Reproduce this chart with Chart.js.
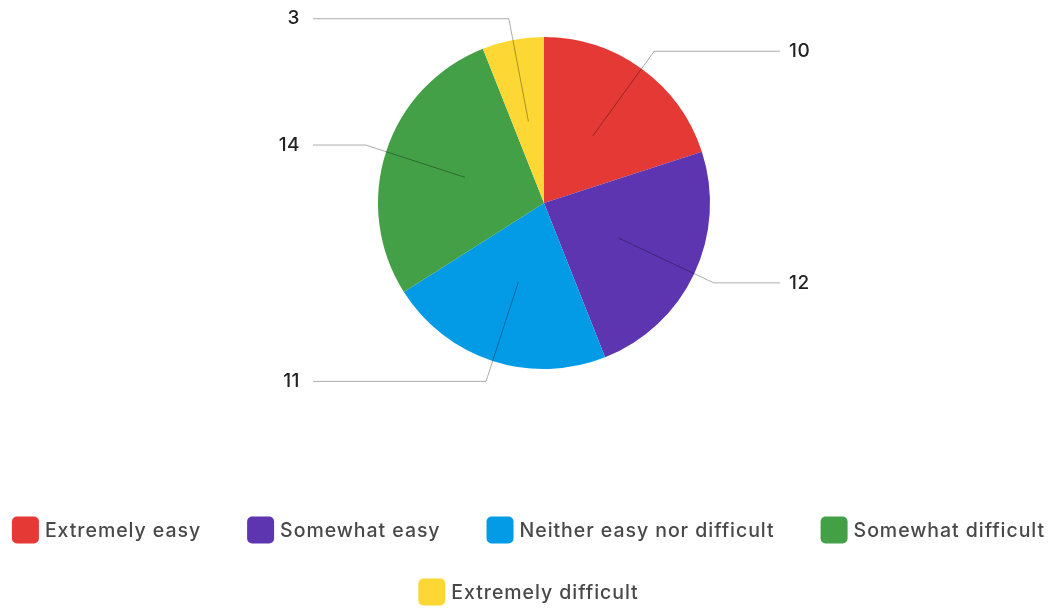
<!DOCTYPE html>
<html>
<head>
<meta charset="utf-8">
<script src="https://cdn.jsdelivr.net/npm/chart.js@4/dist/chart.umd.min.js"></script>
<style>
  html, body { margin: 0; padding: 0; background: #fff; }
  #wrap { width: 1057px; height: 608px; }
</style>
</head>
<body>
<div id="wrap"><canvas id="myChart" width="1057" height="608"></canvas></div>
<script>
const labels = ['Extremely easy', 'Somewhat easy', 'Neither easy nor difficult', 'Somewhat difficult', 'Extremely difficult'];
const counts = [10, 12, 11, 14, 3];
const colors = ['#E53935', '#5E35B1', '#039BE5', '#43A047', '#FDD835'];

const FONT = 'Inter, "Noto Sans", sans-serif';

// leader lines + outside value labels
const leaderLabels = {
  id: 'leaderLabels',
  afterDatasetsDraw(chart) {
    const ctx = chart.ctx;
    const arcs = chart.getDatasetMeta(0).data;
    ctx.save();
    arcs.forEach((arc, i) => {
      const mid = (arc.startAngle + arc.endAngle) / 2;
      const r = arc.outerRadius;
      const cx = arc.x, cy = arc.y;
      const x1 = cx + Math.cos(mid) * r * 0.5;
      const y1 = cy + Math.sin(mid) * r * 0.5;
      const x2 = cx + Math.cos(mid) * r * 1.13;
      const y2 = cy + Math.sin(mid) * r * 1.13;
      const right = Math.cos(mid) >= 0;
      const x3 = right ? 780 : 313;
      ctx.strokeStyle = 'rgba(0,0,0,0.33)';
      ctx.lineWidth = 1;
      ctx.beginPath();
      ctx.moveTo(x1, y1);
      ctx.lineTo(x2, y2);
      ctx.lineTo(x3, y2);
      ctx.stroke();
      ctx.fillStyle = '#222';
      ctx.font = '500 19px ' + FONT;
      ctx.letterSpacing = '0.5px';
      ctx.textBaseline = 'middle';
      ctx.textAlign = right ? 'left' : 'right';
      ctx.fillText(String(counts[i]), right ? 789 : 300, y2);
    });
    ctx.restore();
  }
};

// legend drawn below the pie
const bottomLegend = {
  id: 'bottomLegend',
  afterDraw(chart) {
    const ctx = chart.ctx;
    const W = chart.width;
    const box = 27, gapText = 6, gapItem = 46;
    ctx.save();
    ctx.font = '500 19.5px ' + FONT;
    ctx.letterSpacing = '0.95px';
    const items = labels.map((t, i) => ({ t, c: colors[i], w: box + gapText + ctx.measureText(t).width }));
    const rows = [[]];
    let rowW = 0;
    items.forEach(it => {
      const add = (rows[rows.length - 1].length ? gapItem : 0) + it.w;
      if (rowW + add > W - 4 && rows[rows.length - 1].length) {
        rows.push([it]);
        rowW = it.w;
      } else {
        rows[rows.length - 1].push(it);
        rowW += add;
      }
    });
    rows.forEach((row, ri) => {
      const total = row.reduce((s, it) => s + it.w, 0) + gapItem * (row.length - 1);
      let x = (W - total) / 2;
      const y = 530 + ri * 62;
      row.forEach(it => {
        ctx.fillStyle = it.c;
        ctx.beginPath();
        ctx.roundRect(x, y - box / 2, box, box, 5);
        ctx.fill();
        ctx.fillStyle = '#484848';
        ctx.textAlign = 'left';
        ctx.textBaseline = 'middle';
        ctx.fillText(it.t, x + box + gapText, y + 1);
        x += it.w + gapItem;
      });
    });
    ctx.restore();
  }
};

new Chart(document.getElementById('myChart').getContext('2d'), {
  type: 'pie',
  data: {
    labels: labels,
    datasets: [{
      data: counts,
      backgroundColor: colors,
      borderWidth: 0
    }]
  },
  options: {
    responsive: false,
    animation: false,
    layout: { padding: { top: 37, bottom: 239, left: 31, right: 0 } },
    plugins: {
      legend: { display: false },
      tooltip: { enabled: false }
    }
  },
  plugins: [leaderLabels, bottomLegend]
});
</script>
</body>
</html>
